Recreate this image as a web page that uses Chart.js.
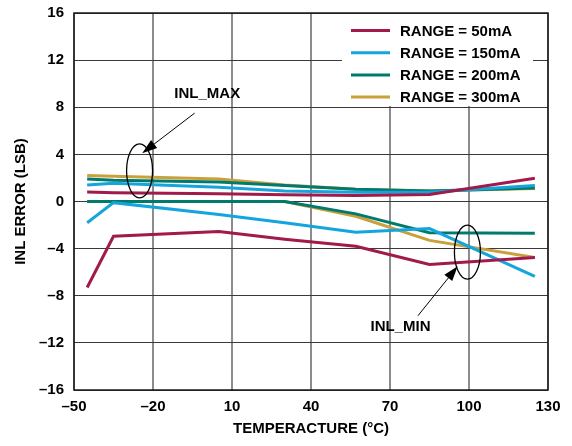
<!DOCTYPE html>
<html>
<head>
<meta charset="utf-8">
<script src="https://cdn.jsdelivr.net/npm/chart.js@4"></script>
<style>
  html, body { margin: 0; padding: 0; background: #fff; }
  #wadah { width: 572px; height: 446px; position: relative; }
</style>
</head>
<body>
<div id="wadah"><canvas id="grafikInl"></canvas></div>
<script>
// Data INL error vs suhu
const suhu = [-45, -35, 5, 30, 57, 85, 125];
const labelRange = ['RANGE = 50mA', 'RANGE = 150mA', 'RANGE = 200mA', 'RANGE = 300mA'];

const inlMax50 = [0.8, 0.75, 0.65, 0.58, 0.5, 0.6, 1.98];
const inlMin50 = [-7.3, -2.95, -2.55, -3.2, -3.8, -5.35, -4.75];
const inlMax150 = [1.4, 1.55, 1.2, 0.9, 0.78, 0.78, 1.35];
const inlMin150 = [-1.8, -0.1, -1.1, -1.8, -2.6, -2.3, -6.35];
const inlMax200 = [1.9, 1.8, 1.65, 1.35, 1.05, 0.9, 1.15];
const inlMin200 = [0, 0, 0, 0, -1.05, -2.65, -2.7];
const inlMax300 = [2.2, 2.15, 1.9, 1.4, 1.05, 0.9, 1.1];
const inlMin300 = [0, 0, 0, 0, -1.25, -3.3, -4.75];

const tickX = [-50, -20, 10, 40, 70, 100, 130];
const tickY = [-16, -12, -8, -4, 0, 4, 8, 12, 16];

const warna = ['#a11a4b', '#14a5dc', '#007a6d', '#c9a03a'];
const fontTebal = { family: '"Liberation Sans", Arial, sans-serif', size: 15, weight: 'bold' };

// Anotasi elips + panah, posisi dalam satuan data
const anotasi = [
  { teks: 'INL_MAX', teksX: 0.6, teksY: 9.1, dariX: -4.2, dariY: 7.5, keX: -24.1, keY: 4.1, elipsX: -25.1, elipsY: 2.6 },
  { teks: 'INL_MIN', teksX: 74, teksY: -10.6, dariX: 80.6, dariY: -9.7, keX: 95.7, keY: -5.5, elipsX: 99.4, elipsY: -4.3 }
];

function keTitik(arr) {
  return arr.map((v, i) => ({ x: suhu[i], y: v }));
}

function formatAngka(v) {
  return v < 0 ? '\u2013' + Math.abs(v) : String(v);
}

const seri = [
  [inlMax50, inlMin50],
  [inlMax150, inlMin150],
  [inlMax200, inlMin200],
  [inlMax300, inlMin300]
];

const datasets = [];
seri.forEach((pasangan, i) => {
  pasangan.forEach((nilai) => {
    datasets.push({
      label: labelRange[i],
      data: keTitik(nilai),
      borderColor: warna[i],
      backgroundColor: warna[i],
      borderWidth: 3,
      pointRadius: 0,
      tension: 0,
      fill: false
    });
  });
});

// Plugin: bingkai, legenda, dan anotasi
const pluginTambahan = {
  id: 'tambahan',
  afterDraw(chart) {
    const ctx = chart.ctx;
    const area = chart.chartArea;
    const sx = chart.scales.x;
    const sy = chart.scales.y;

    // bingkai area plot
    ctx.save();
    ctx.strokeStyle = '#1a1a1a';
    ctx.lineWidth = 1.5;
    ctx.strokeRect(area.left, area.top, area.right - area.left, area.bottom - area.top);

    // legenda
    ctx.fillStyle = '#fff';
    ctx.fillRect(area.right - 206, area.top + 1, 191, 92);
    ctx.font = 'bold 15px "Liberation Sans", Arial, sans-serif';
    ctx.textBaseline = 'middle';
    ctx.textAlign = 'left';
    labelRange.forEach((lbl, i) => {
      const y = area.top + 17.5 + i * 22.2;
      ctx.strokeStyle = warna[i];
      ctx.lineWidth = 3;
      ctx.beginPath();
      ctx.moveTo(area.right - 197, y);
      ctx.lineTo(area.right - 158, y);
      ctx.stroke();
      ctx.fillStyle = '#000';
      ctx.fillText(lbl, area.right - 148, y + 1);
    });

    // anotasi
    anotasi.forEach((a) => {
      const cx = sx.getPixelForValue(a.elipsX);
      const cy = sy.getPixelForValue(a.elipsY);
      ctx.strokeStyle = '#000';
      ctx.lineWidth = 1.3;
      ctx.beginPath();
      ctx.ellipse(cx, cy, 13, 27, 0, 0, Math.PI * 2);
      ctx.stroke();

      const x1 = sx.getPixelForValue(a.dariX);
      const y1 = sy.getPixelForValue(a.dariY);
      const x2 = sx.getPixelForValue(a.keX);
      const y2 = sy.getPixelForValue(a.keY);
      const sudut = Math.atan2(y2 - y1, x2 - x1);
      const panjang = 15;
      ctx.lineWidth = 1;
      ctx.beginPath();
      ctx.moveTo(x1, y1);
      ctx.lineTo(x2 - Math.cos(sudut) * panjang * 0.8, y2 - Math.sin(sudut) * panjang * 0.8);
      ctx.stroke();
      ctx.fillStyle = '#000';
      ctx.beginPath();
      ctx.moveTo(x2, y2);
      ctx.lineTo(x2 - panjang * Math.cos(sudut) + 5 * Math.sin(sudut), y2 - panjang * Math.sin(sudut) - 5 * Math.cos(sudut));
      ctx.lineTo(x2 - panjang * Math.cos(sudut) - 5 * Math.sin(sudut), y2 - panjang * Math.sin(sudut) + 5 * Math.cos(sudut));
      ctx.closePath();
      ctx.fill();

      ctx.textAlign = 'center';
      ctx.textBaseline = 'middle';
      ctx.fillText(a.teks, sx.getPixelForValue(a.teksX), sy.getPixelForValue(a.teksY));
    });
    ctx.restore();
  }
};

document.addEventListener('DOMContentLoaded', function () {
  const kanvas = document.getElementById('grafikInl');
  // eslint-disable-next-line no-undef
  new Chart(kanvas, {
    type: 'line',
    data: { datasets: datasets },
    plugins: [pluginTambahan],
    options: {
      responsive: true,
      maintainAspectRatio: false,
      animation: false,
      layout: { padding: { top: 13, right: 24, left: 0, bottom: 0 } },
      plugins: {
        legend: { display: false },
        tooltip: { enabled: false }
      },
      scales: {
        x: {
          type: 'linear',
          min: -50,
          max: 130,
          afterBuildTicks: (s) => { s.ticks = tickX.map((v) => ({ value: v })); },
          afterFit: (s) => { s.height = 56; s.paddingLeft = 0; s.paddingRight = 0; },
          grid: { color: '#8c8c8c', lineWidth: 2, drawTicks: false },
          border: { display: false },
          ticks: { color: '#000', font: fontTebal, padding: 8, maxRotation: 0, callback: formatAngka },
          title: { display: true, text: 'TEMPERACTURE (°C)', color: '#000', font: fontTebal, padding: { top: 0, bottom: 8 } }
        },
        y: {
          min: -16,
          max: 16,
          afterBuildTicks: (s) => { s.ticks = tickY.map((v) => ({ value: v })); },
          afterFit: (s) => { s.width = 74; s.paddingTop = 0; s.paddingBottom = 0; },
          grid: { color: '#3a3a3a', lineWidth: 1, drawTicks: false },
          border: { display: false },
          ticks: { color: '#000', font: fontTebal, padding: 10, callback: formatAngka },
          title: { display: true, text: 'INL ERROR (LSB)', color: '#000', font: fontTebal, padding: { top: 12, bottom: 0 } }
        }
      }
    }
  });
});
</script>
</body>
</html>
